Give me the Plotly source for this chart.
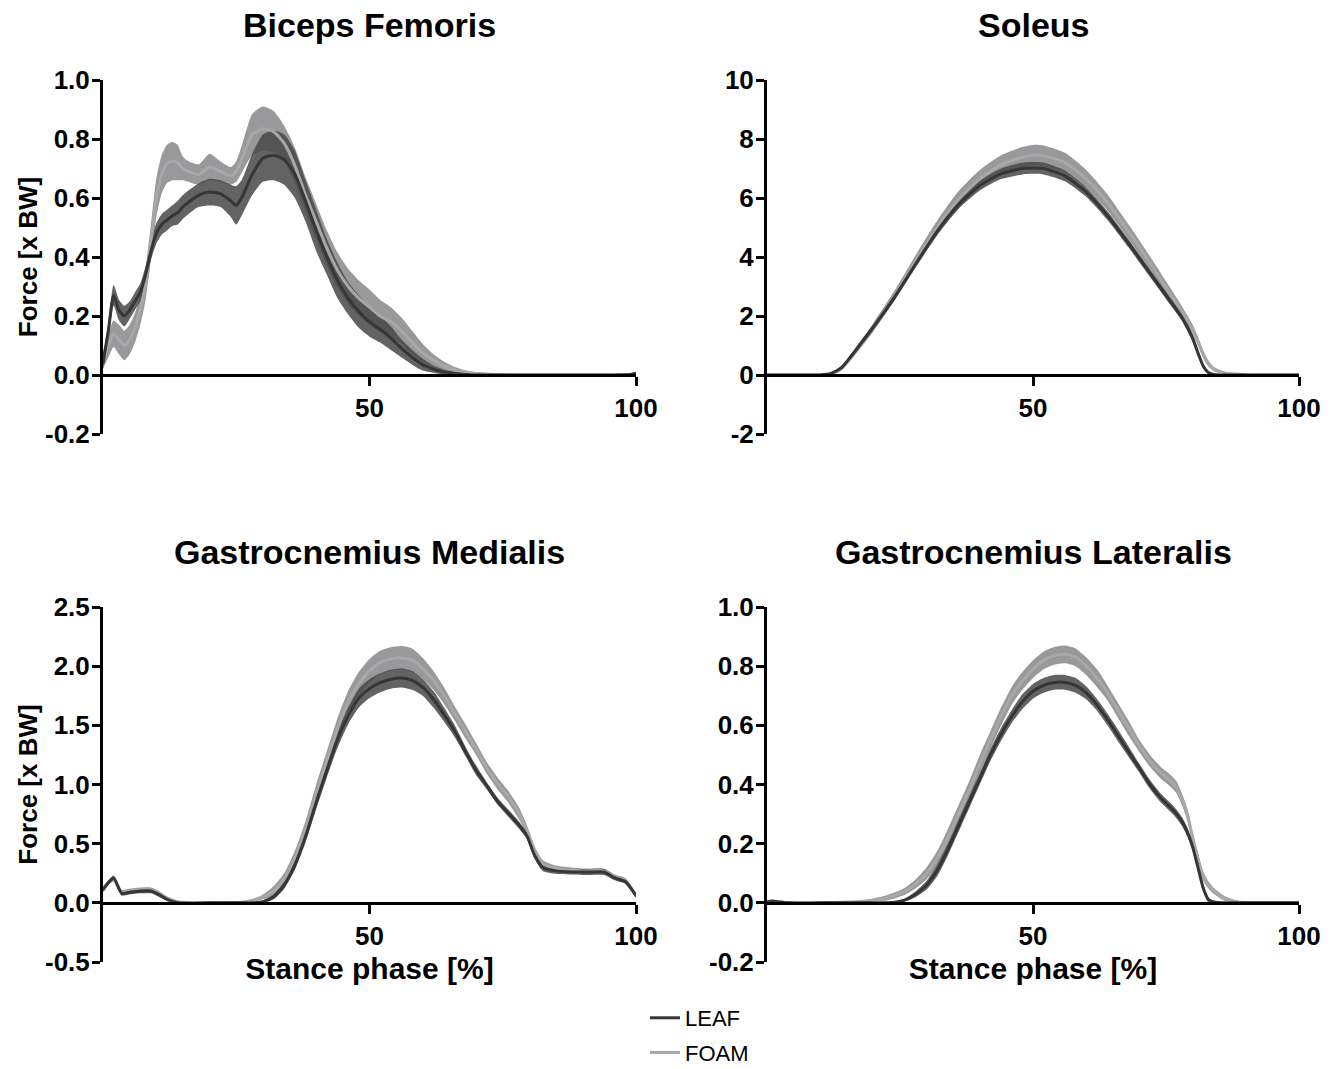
import numpy as np
import plotly.graph_objects as go

# ---------------- data ----------------
BF_X = [0, 1, 2, 3, 4, 5, 6, 7, 8, 9, 10, 11, 12, 13, 14, 15, 16, 18, 20, 22, 24, 25, 26, 28, 30,
        32, 34, 36, 38, 40, 42, 44, 46, 48, 50, 52, 54, 56, 58, 60, 62, 64, 66, 68, 70, 75, 80, 90, 99, 100]
BF_LEAF = [0.04, 0.15, 0.27, 0.22, 0.20, 0.22, 0.25, 0.28, 0.34, 0.42, 0.48, 0.51, 0.525, 0.54, 0.55, 0.57,
           0.585, 0.61, 0.62, 0.615, 0.59, 0.575, 0.60, 0.68, 0.735, 0.745, 0.73, 0.68, 0.59, 0.49, 0.40,
           0.32, 0.26, 0.215, 0.18, 0.155, 0.125, 0.09, 0.06, 0.035, 0.02, 0.01, 0.005, 0.002, 0.0, 0.0,
           0.0, 0.0, 0.002, 0.006]
BF_LEAF_SD = [0.02, 0.03, 0.035, 0.035, 0.035, 0.03, 0.03, 0.03, 0.03, 0.03, 0.035, 0.035, 0.035, 0.035,
              0.04, 0.04, 0.04, 0.04, 0.045, 0.045, 0.055, 0.065, 0.06, 0.07, 0.08, 0.085, 0.085, 0.08,
              0.07, 0.07, 0.06, 0.06, 0.055, 0.055, 0.05, 0.045, 0.04, 0.03, 0.025, 0.02, 0.012, 0.008,
              0.005, 0.003, 0.002, 0.001, 0.001, 0.001, 0.001, 0.001]
BF_FOAM = [0.05, 0.10, 0.14, 0.12, 0.10, 0.12, 0.16, 0.22, 0.31, 0.45, 0.60, 0.68, 0.715, 0.725, 0.72,
           0.70, 0.69, 0.68, 0.705, 0.69, 0.675, 0.69, 0.73, 0.815, 0.835, 0.825, 0.785, 0.71, 0.61,
           0.52, 0.43, 0.355, 0.30, 0.26, 0.23, 0.20, 0.18, 0.15, 0.11, 0.075, 0.05, 0.03, 0.017, 0.01,
           0.005, 0.001, 0.0, 0.0, 0.002, 0.005]
BF_FOAM_SD = [0.03, 0.04, 0.045, 0.05, 0.05, 0.05, 0.05, 0.05, 0.055, 0.06, 0.065, 0.065, 0.065, 0.065,
              0.06, 0.04, 0.035, 0.035, 0.045, 0.035, 0.03, 0.035, 0.045, 0.07, 0.075, 0.07, 0.06, 0.06,
              0.06, 0.06, 0.06, 0.06, 0.06, 0.06, 0.06, 0.055, 0.05, 0.045, 0.04, 0.03, 0.02, 0.015,
              0.01, 0.006, 0.004, 0.002, 0.001, 0.001, 0.001, 0.001]

SO_X = [0, 5, 10, 12, 14, 16, 18, 20, 24, 28, 32, 36, 40, 44, 48, 50, 52, 56, 60, 64, 68, 72, 76, 78,
        80, 81, 82, 83, 84, 86, 88, 90, 95, 100]
SO_LEAF = [0, 0, 0, 0.05, 0.25, 0.68, 1.15, 1.62, 2.65, 3.78, 4.88, 5.78, 6.42, 6.82, 7.0, 7.02, 7.0,
           6.75, 6.2, 5.4, 4.45, 3.45, 2.45, 1.95, 1.25, 0.75, 0.3, 0.08, 0.02, 0, 0, 0, 0, 0]
SO_LEAF_SD = [0.01, 0.01, 0.01, 0.03, 0.06, 0.08, 0.1, 0.1, 0.12, 0.12, 0.14, 0.15, 0.17, 0.18, 0.2,
              0.2, 0.2, 0.18, 0.16, 0.15, 0.14, 0.13, 0.12, 0.12, 0.12, 0.1, 0.08, 0.05, 0.02, 0.01,
              0.01, 0.01, 0.01, 0.01]
SO_FOAM = [0, 0, 0, 0.03, 0.22, 0.65, 1.12, 1.62, 2.7, 3.88, 5.0, 5.95, 6.65, 7.12, 7.38, 7.45, 7.43,
           7.2, 6.65, 5.85, 4.85, 3.8, 2.7, 2.15, 1.55, 1.15, 0.7, 0.38, 0.2, 0.07, 0.03, 0.01, 0, 0]
SO_FOAM_SD = [0.01, 0.01, 0.01, 0.03, 0.07, 0.1, 0.12, 0.14, 0.17, 0.2, 0.24, 0.28, 0.3, 0.33, 0.35,
              0.35, 0.35, 0.33, 0.3, 0.27, 0.24, 0.22, 0.2, 0.18, 0.16, 0.15, 0.13, 0.1, 0.07, 0.04,
              0.02, 0.01, 0.01, 0.01]

GM_X = [0, 1, 2, 3, 3.5, 5, 7, 9, 10.5, 12, 14, 20, 26, 28, 30, 32, 34, 36, 38, 40, 42, 44, 46, 48,
        50, 52, 54, 56, 58, 60, 62, 64, 66, 68, 70, 72, 74, 76, 78, 79.5, 81, 82.5, 85, 90, 94, 96, 98, 100]
GM_LEAF = [0.11, 0.17, 0.21, 0.12, 0.08, 0.09, 0.10, 0.10, 0.07, 0.03, 0.0, 0.0, 0.0, 0.0, 0.01, 0.05,
           0.15, 0.32, 0.56, 0.85, 1.12, 1.38, 1.58, 1.73, 1.81, 1.86, 1.89, 1.90, 1.88, 1.82, 1.72,
           1.59, 1.45, 1.28, 1.12, 0.99, 0.86, 0.76, 0.66, 0.57, 0.40, 0.30, 0.27, 0.26, 0.26, 0.21,
           0.18, 0.06]
GM_LEAF_SD = [0.02, 0.02, 0.02, 0.02, 0.02, 0.02, 0.02, 0.02, 0.02, 0.01, 0.005, 0.002, 0.002, 0.005,
              0.01, 0.02, 0.03, 0.04, 0.05, 0.06, 0.06, 0.07, 0.07, 0.08, 0.08, 0.08, 0.08, 0.08, 0.08,
              0.07, 0.07, 0.06, 0.05, 0.04, 0.04, 0.03, 0.03, 0.03, 0.03, 0.03, 0.03, 0.03, 0.025,
              0.025, 0.025, 0.02, 0.02, 0.02]
GM_FOAM = [0.12, 0.17, 0.20, 0.12, 0.09, 0.10, 0.11, 0.11, 0.08, 0.04, 0.01, 0.0, 0.005, 0.02, 0.05,
           0.10, 0.20, 0.38, 0.62, 0.92, 1.20, 1.47, 1.70, 1.85, 1.96, 2.03, 2.06, 2.07, 2.05, 1.98,
           1.88, 1.75, 1.60, 1.45, 1.30, 1.14, 1.01, 0.90, 0.76, 0.62, 0.44, 0.33, 0.29, 0.27, 0.27,
           0.22, 0.19, 0.06]
GM_FOAM_SD = [0.02, 0.02, 0.02, 0.02, 0.02, 0.02, 0.02, 0.02, 0.02, 0.015, 0.005, 0.002, 0.005, 0.01,
              0.02, 0.04, 0.05, 0.06, 0.07, 0.08, 0.08, 0.09, 0.09, 0.1, 0.1, 0.1, 0.1, 0.1, 0.1, 0.09,
              0.08, 0.07, 0.06, 0.06, 0.05, 0.05, 0.05, 0.05, 0.05, 0.04, 0.035, 0.03, 0.025, 0.02,
              0.02, 0.02, 0.02, 0.02]

GL_X = [0, 1, 2, 4, 10, 18, 20, 22, 24, 26, 28, 30, 32, 34, 36, 38, 40, 42, 44, 46, 48, 50, 52, 54, 56,
        58, 60, 62, 64, 66, 68, 70, 72, 74, 76, 77, 78, 79, 80, 81, 82, 83, 84, 86, 88, 90, 95, 100]
GL_LEAF = [0.003, 0.006, 0.004, 0, 0, 0, 0, 0, 0.002, 0.01, 0.03, 0.06, 0.11, 0.18, 0.26, 0.34, 0.42,
           0.50, 0.57, 0.63, 0.68, 0.715, 0.735, 0.745, 0.745, 0.735, 0.71, 0.67, 0.62, 0.565, 0.51,
           0.455, 0.40, 0.355, 0.32, 0.30, 0.275, 0.24, 0.19, 0.12, 0.05, 0.01, 0.003, 0, 0, 0, 0, 0]
GL_LEAF_SD = [0.002, 0.002, 0.002, 0.001, 0.001, 0.001, 0.001, 0.001, 0.002, 0.005, 0.01, 0.015, 0.02,
              0.02, 0.02, 0.02, 0.02, 0.02, 0.022, 0.022, 0.025, 0.025, 0.025, 0.025, 0.025, 0.025,
              0.022, 0.02, 0.02, 0.02, 0.018, 0.015, 0.015, 0.015, 0.015, 0.015, 0.015, 0.015, 0.015,
              0.015, 0.012, 0.008, 0.003, 0.001, 0.001, 0.001, 0.001, 0.001]
GL_FOAM = [0.003, 0.005, 0.004, 0, 0, 0.005, 0.01, 0.015, 0.025, 0.04, 0.065, 0.10, 0.15, 0.22, 0.30,
           0.38, 0.47, 0.55, 0.63, 0.70, 0.75, 0.79, 0.82, 0.835, 0.84, 0.83, 0.80, 0.76, 0.71, 0.65,
           0.59, 0.53, 0.48, 0.44, 0.41, 0.39, 0.35, 0.30, 0.22, 0.15, 0.09, 0.06, 0.04, 0.015, 0.005,
           0.001, 0, 0]
GL_FOAM_SD = [0.002, 0.002, 0.002, 0.001, 0.001, 0.003, 0.005, 0.008, 0.01, 0.012, 0.015, 0.02, 0.025,
              0.03, 0.03, 0.03, 0.03, 0.03, 0.03, 0.03, 0.03, 0.03, 0.03, 0.03, 0.03, 0.03, 0.03, 0.03,
              0.025, 0.025, 0.025, 0.02, 0.02, 0.02, 0.02, 0.02, 0.02, 0.02, 0.02, 0.02, 0.015, 0.012,
              0.01, 0.008, 0.004, 0.002, 0.001, 0.001]

TITLES = ["Biceps Femoris", "Soleus", "Gastrocnemius Medialis", "Gastrocnemius Lateralis"]
SERIES = ["LEAF", "FOAM"]
X_TICKS = [50, 100]
X_TICKTEXT = ["50", "100"]
BF_YTICKS = [-0.2, 0.0, 0.2, 0.4, 0.6, 0.8, 1.0]
BF_YTEXT = ["-0.2", "0.0", "0.2", "0.4", "0.6", "0.8", "1.0"]
SO_YTICKS = [-2, 0, 2, 4, 6, 8, 10]
SO_YTEXT = ["-2", "0", "2", "4", "6", "8", "10"]
GM_YTICKS = [-0.5, 0.0, 0.5, 1.0, 1.5, 2.0, 2.5]
GM_YTEXT = ["-0.5", "0.0", "0.5", "1.0", "1.5", "2.0", "2.5"]
GL_YTICKS = [-0.2, 0.0, 0.2, 0.4, 0.6, 0.8, 1.0]
GL_YTEXT = ["-0.2", "0.0", "0.2", "0.4", "0.6", "0.8", "1.0"]
Y_TITLE = "Force [x BW]"
X_TITLE = "Stance phase [%]"

# ---------------- layout helpers ----------------
W, H = 1339, 1069
FONT = "Liberation Sans, Arial, sans-serif"


def fx(px):
    return px / W


def fy(py):
    return 1 - py / H


COL_DOM = [[fx(103), fx(636)], [fx(767), fx(1299)]]
ROW_DOM = [[fy(434), fy(80)], [fy(962), fy(607)]]

LEAF_LINE = "#363636"
LEAF_FILL = "rgba(72,72,72,0.85)"
FOAM_LINE = "#a8a8aa"
FOAM_FILL = "rgba(135,135,138,0.85)"

panels = [
    dict(x=BF_X, leaf=BF_LEAF, leaf_sd=BF_LEAF_SD, foam=BF_FOAM, foam_sd=BF_FOAM_SD,
         ticks=BF_YTICKS, text=BF_YTEXT, row=0, col=0),
    dict(x=SO_X, leaf=SO_LEAF, leaf_sd=SO_LEAF_SD, foam=SO_FOAM, foam_sd=SO_FOAM_SD,
         ticks=SO_YTICKS, text=SO_YTEXT, row=0, col=1),
    dict(x=GM_X, leaf=GM_LEAF, leaf_sd=GM_LEAF_SD, foam=GM_FOAM, foam_sd=GM_FOAM_SD,
         ticks=GM_YTICKS, text=GM_YTEXT, row=1, col=0),
    dict(x=GL_X, leaf=GL_LEAF, leaf_sd=GL_LEAF_SD, foam=GL_FOAM, foam_sd=GL_FOAM_SD,
         ticks=GL_YTICKS, text=GL_YTEXT, row=1, col=1),
]

fig = go.Figure()
annotations = []

for i, p in enumerate(panels):
    n = i + 1
    xa = "x" if n == 1 else f"x{n}"
    ya = "y" if n == 1 else f"y{n}"
    xs = np.array(p["x"], dtype=float)
    for name, mean, sd, fillc in [("FOAM", p["foam"], p["foam_sd"], FOAM_FILL),
                                  ("LEAF", p["leaf"], p["leaf_sd"], LEAF_FILL)]:
        m = np.array(mean, dtype=float)
        s = np.array(sd, dtype=float)
        fig.add_trace(go.Scatter(x=xs, y=m + s, xaxis=xa, yaxis=ya, mode="lines",
                                 line=dict(width=0, shape="spline", smoothing=0.6),
                                 showlegend=False, hoverinfo="skip"))
        fig.add_trace(go.Scatter(x=xs, y=np.maximum(m - s, 0), xaxis=xa, yaxis=ya, mode="lines",
                                 line=dict(width=0, shape="spline", smoothing=0.6),
                                 fill="tonexty", fillcolor=fillc,
                                 showlegend=False, hoverinfo="skip"))
    for name, mean, color in [("FOAM", p["foam"], FOAM_LINE), ("LEAF", p["leaf"], LEAF_LINE)]:
        fig.add_trace(go.Scatter(x=xs, y=mean, xaxis=xa, yaxis=ya, mode="lines", name=name,
                                 line=dict(width=3, color=color, shape="spline", smoothing=0.6),
                                 showlegend=(i == 0), legendgroup=name,
                                 legendrank=1 if name == "LEAF" else 2))

    xd = COL_DOM[p["col"]]
    yd = ROW_DOM[p["row"]]
    ymin, ymax = p["ticks"][0], p["ticks"][-1]
    zero_pos = yd[0] + (0 - ymin) / (ymax - ymin) * (yd[1] - yd[0])
    tickfont = dict(family=FONT, size=26, color="black", weight="bold")
    xkey = "xaxis" if n == 1 else f"xaxis{n}"
    ykey = "yaxis" if n == 1 else f"yaxis{n}"
    xaxis = dict(domain=xd, range=[0, 100], anchor="free", position=zero_pos,
                 showgrid=False, zeroline=False, showline=True, linecolor="black", linewidth=3,
                 ticks="outside", ticklen=9, tickwidth=3, tickcolor="black",
                 tickvals=X_TICKS, ticktext=X_TICKTEXT, tickfont=tickfont, automargin=False)
    if p["row"] == 1:
        xaxis["title"] = dict(text=X_TITLE, font=dict(family=FONT, size=30, color="black", weight="bold"),
                              standoff=7)
    yaxis = dict(domain=yd, range=[ymin, ymax], anchor=xa, position=xd[0],
                 showgrid=False, zeroline=False, showline=True, linecolor="black", linewidth=3,
                 ticks="outside", ticklen=8, tickwidth=3, tickcolor="black",
                 tickvals=p["ticks"], ticktext=p["text"], tickfont=tickfont, automargin=False,
                 ticklabelstandoff=-3)
    if p["col"] == 0:
        yaxis["title"] = dict(text=Y_TITLE, font=dict(family=FONT, size=26, color="black", weight="bold"),
                              standoff=0)
    fig.update_layout({xkey: xaxis, ykey: yaxis})

    annotations.append(dict(text=TITLES[i], x=(xd[0] + xd[1]) / 2, y=yd[1] + 55 / H,
                            xref="paper", yref="paper", xanchor="center", yanchor="middle",
                            showarrow=False,
                            font=dict(family=FONT, size=34, color="black", weight="bold")))

fig.update_layout(
    width=W, height=H,
    margin=dict(l=0, r=0, t=0, b=0, autoexpand=False),
    paper_bgcolor="white", plot_bgcolor="white",
    annotations=annotations,
    showlegend=True,
    legend=dict(x=fx(645), y=fy(997), xanchor="left", yanchor="top",
                font=dict(family=FONT, size=22, color="black"),
                itemwidth=30, tracegroupgap=3, bgcolor="rgba(0,0,0,0)"),
)

# remove the default 8px page margin so the figure fills the window exactly
fig.write_html("out.html", config={"displayModeBar": False},
               post_script="document.body.style.margin='0';document.body.style.overflow='hidden';")
